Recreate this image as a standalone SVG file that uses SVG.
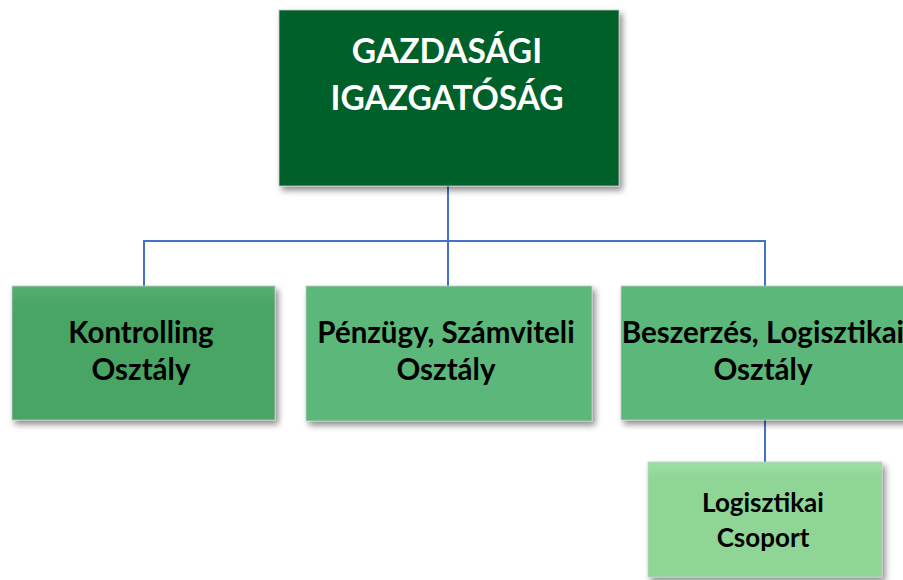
<svg xmlns="http://www.w3.org/2000/svg" width="903" height="580" viewBox="0 0 903 580">
  <style>
    .box { stroke: #c8c8c8; stroke-width: 0.8; filter: url(#shadow); }
    .lbl { font-family: Lato, "Open Sans", "Liberation Sans", sans-serif; font-weight: bold; text-anchor: middle; fill: #000; }
    .head { fill: #ffffff; font-size: 33.5px; }
    .dept { font-size: 29.5px; }
    .grp { font-size: 26px; }
    .conn { fill: none; stroke: #4472c4; stroke-width: 2; }
  </style>
  <defs>
    <filter id="shadow" x="-10%" y="-10%" width="125%" height="130%">
      <feDropShadow dx="3" dy="4" stdDeviation="3" flood-color="#000" flood-opacity="0.45"/>
    </filter>
    <linearGradient id="gKontr" x1="0" y1="0" x2="0" y2="1">
      <stop offset="0" stop-color="#56b070"/>
      <stop offset="0.15" stop-color="#4aa564"/>
      <stop offset="1" stop-color="#4aa564"/>
    </linearGradient>
    <linearGradient id="gGrp" x1="0" y1="0" x2="0" y2="1">
      <stop offset="0" stop-color="#9de0a4"/>
      <stop offset="0.15" stop-color="#8fd596"/>
      <stop offset="1" stop-color="#8fd596"/>
    </linearGradient>
  </defs>

  <rect width="903" height="580" fill="#ffffff"/>

  <g id="connectors">
    <path class="conn" d="M448 186 V241"/>
    <path class="conn" d="M144 286 V241 H765 V286"/>
    <path class="conn" d="M448 241 V286"/>
    <path class="conn" d="M765 420 V462"/>
  </g>

  <g id="igazgatosag">
    <rect class="box" x="279" y="10" width="340" height="176" fill="#00602b"/>
    <text class="lbl head" x="447" y="63">GAZDASÁGI</text>
    <text class="lbl head" x="447" y="110">IGAZGATÓSÁG</text>
  </g>

  <g id="kontrolling">
    <rect class="box" x="12" y="286" width="263" height="134" fill="url(#gKontr)"/>
    <text class="lbl dept" x="141" y="343">Kontrolling</text>
    <text class="lbl dept" x="141" y="380">Osztály</text>
  </g>

  <g id="penzugy">
    <rect class="box" x="306" y="286" width="286" height="135" fill="#5bb77a"/>
    <text class="lbl dept" x="446" y="343">Pénzügy, Számviteli</text>
    <text class="lbl dept" x="446" y="380">Osztály</text>
  </g>

  <g id="beszerzes">
    <rect class="box" x="621" y="286" width="290" height="134" fill="#5bb77a"/>
    <text class="lbl dept" x="763" y="343">Beszerzés, Logisztikai</text>
    <text class="lbl dept" x="763" y="380">Osztály</text>
  </g>

  <g id="logisztikai-csoport">
    <rect class="box" x="648" y="462" width="234" height="115" fill="url(#gGrp)"/>
    <text class="lbl grp" x="763" y="512">Logisztikai</text>
    <text class="lbl grp" x="763" y="547">Csoport</text>
  </g>
</svg>
